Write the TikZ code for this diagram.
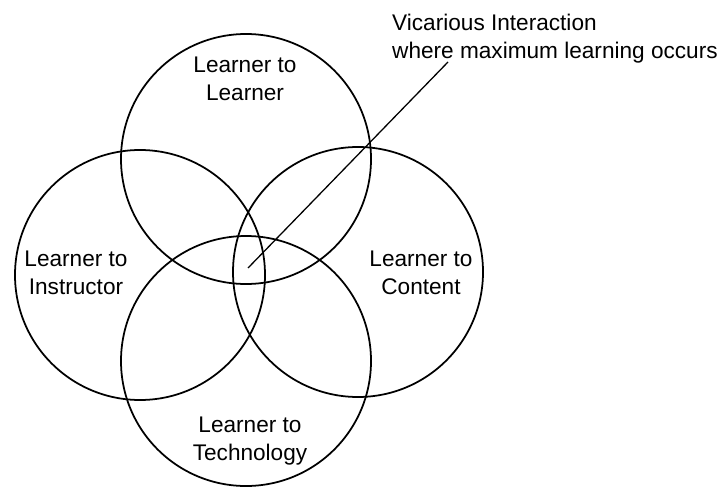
\documentclass[tikz,border=0pt]{standalone}
\usepackage{fontspec}
\setmainfont{Liberation Sans}
\usetikzlibrary{positioning}
\tikzset{
  every picture/.append style={font=\fontsize{19.3}{23.8}\selectfont},
  ring/.style={circle, draw=black, line width=1.5pt, minimum size=7.5cm, inner sep=0pt},
  lbl/.style={align=center, inner sep=0pt, text=black},
  note/.style={align=left, inner sep=0pt, anchor=west, text=black},
  lead/.style={draw=black, line width=1.1pt},
}

\begin{document}
\begin{tikzpicture}[x=1cm,y=1cm]
\useasboundingbox (0,0) rectangle (21.72,-14.67);

% ---------------- four overlapping circles ----------------
\node[ring] (peer)  at (7.38,-4.77)  {};
\node[ring] (instr) at (4.20,-8.25)  {};
\node[ring] (cont)  at (10.74,-8.16) {};
\node[ring] (tech)  at (7.38,-10.83) {};

% ---------------- labels ----------------
\node[lbl] (peerT)  at (7.35,-2.37)  {Learner to\\Learner};
\node[lbl] (instrT) at (2.28,-8.19)  {Learner to\\Instructor};
\node[lbl] (contT)  at (12.63,-8.19) {Learner to\\Content};
\node[lbl] (techT)  at (7.50,-13.23) {Learner to\\Technology};

% ---------------- call-out to the middle ----------------
\node[note] (vic) at (11.76,-1.17) {Vicarious Interaction\\where maximum learning occurs};
\coordinate (tail) at (13.44,-1.86);
\coordinate (tip)  at (7.44,-8.04);
\draw[lead] (tail) -- (tip);

\end{tikzpicture}
\end{document}
